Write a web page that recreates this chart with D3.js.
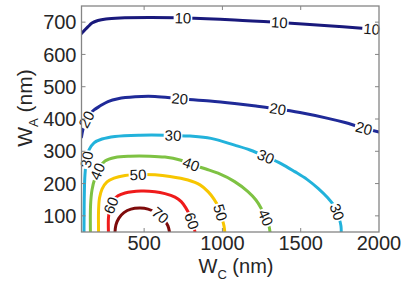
<!DOCTYPE html>
<html><head><meta charset="utf-8">
<script src="https://cdn.jsdelivr.net/npm/d3@7"></script>
<style>body{margin:0;background:#fff}svg{display:block}text{font-family:"Liberation Sans",Arial,sans-serif}</style>
</head><body><svg id="c" width="406" height="284"></svg>
<script>
// ---- data (W_C nm, W_A nm) ----
const levels = [10, 20, 30, 40, 50, 60, 70];
const xTicks = [500, 1000, 1500, 2000];
const yTicks = [100, 200, 300, 400, 500, 600, 700];

const c10 = [[100,665],[116,673],[142,686],[167,697],[205,705],[256,710],[346,713],[537,714],[748,713],[1078,707],[1365,699],[1674,689],[1952,679],[2000,677]];
const c20 = [[100,344],[110,369],[126,394],[148,412],[180,428],[218,440],[269,454],[333,463],[442,469],[569,470],[729,463],[920,456],[1078,448],[1214,440],[1355,431],[1495,420],[1674,402],[1783,389],[1898,372],[2000,360]];
const c30 = [[116,50],[118,165],[122,227],[132,273],[148,304],[180,326],[231,338],[314,346],[474,350],[633,350],[793,347],[927,340],[1078,319],[1176,304],[1280,283],[1374,262],[1462,237],[1540,213],[1611,185],[1674,155],[1719,127],[1745,93],[1757,69],[1759,50]];
const c40 = [[157,50],[158,134],[167,180],[186,217],[212,248],[250,270],[314,281],[410,285],[537,285],[633,282],[729,273],[812,258],[895,245],[972,232],[1078,206],[1163,175],[1214,149],[1248,123],[1278,93],[1297,69],[1304,50]];
const c50 = [[209,50],[209,118],[215,155],[231,183],[263,205],[308,217],[378,225],[474,228],[569,227],[665,222],[780,211],[857,196],[908,175],[946,152],[978,124],[997,93],[1010,69],[1015,50]];
const c60 = [[272,50],[272,93],[279,118],[301,146],[333,162],[378,171],[480,177],[569,175],[633,169],[697,158],[737,144],[767,124],[793,100],[812,75],[825,50]];
const c70 = [[314,50],[320,72],[339,93],[371,110],[416,121],[474,124],[525,121],[569,112],[608,100],[633,84],[652,69],[662,50]];
const contours = [c10, c20, c30, c40, c50, c60, c70];

const lab10 = [[748,713],[1365,699],[1952,679]];
const lab20 = [[126,400],[729,463],[1352,431],[1904,372]];
const lab30 = [[128,275],[684,349],[1278,285],[1735,113]];
const lab40 = [[207,237],[799,258],[1291,98]];
const lab50 = [[461,228],[981,110]];
const lab60 = [[282,134],[799,84]];
const lab70 = [[601,100]];
const labelSets = [lab10, lab20, lab30, lab40, lab50, lab60, lab70];

const colors = ["#19197c", "#1f2a98", "#22b2db", "#7ec243", "#f7c600", "#ef1b1b", "#7e0b0b"];

// ---- layout ----
const L = 81.5, R = 379, T = 6, B = 232;
const x = d3.scaleLinear().domain([100, 2000]).range([L, R]);
const y = d3.scaleLinear().domain([50, 750]).range([B, T]);
const svg = d3.select("#c");
const frameCol = "#858585";

svg.append("defs").append("clipPath").attr("id", "clip")
  .append("rect").attr("x", L).attr("y", T).attr("width", R - L).attr("height", B - T);

const line = d3.line().x(d => x(d[0])).y(d => y(d[1])).curve(d3.curveCatmullRom.alpha(0.5));

const gLines = svg.append("g").attr("clip-path", "url(#clip)");
const paths = contours.map((c, i) =>
  gLines.append("path").attr("d", line(c)).attr("fill", "none")
    .attr("stroke", colors[i]).attr("stroke-width", 3).attr("stroke-linecap", "round").node());

// ---- contour labels ----
const gLab = svg.append("g");
labelSets.forEach((set, i) => {
  const p = paths[i], len = p.getTotalLength();
  set.forEach(d => {
    const tx = x(d[0]), ty = y(d[1]);
    let best = 0, bd = Infinity;
    for (let l = 0; l <= len; l += 0.5) {
      const q = p.getPointAtLength(l);
      const dd = (q.x - tx) ** 2 + (q.y - ty) ** 2;
      if (dd < bd) { bd = dd; best = l; }
    }
    const c = p.getPointAtLength(best);
    const a = p.getPointAtLength(Math.max(0, best - 4));
    const b = p.getPointAtLength(Math.min(len, best + 4));
    let ang = Math.atan2(b.y - a.y, b.x - a.x) * 180 / Math.PI;
    if (ang > 90) ang -= 180;
    if (ang < -90) ang += 180;
    const g = gLab.append("g").attr("transform", `translate(${c.x},${c.y}) rotate(${ang})`);
    const bg = g.append("rect").attr("fill", "#fff");
    const t = g.append("text").attr("text-anchor", "middle").attr("dy", "0.36em")
      .attr("font-size", 15).attr("fill", "#151515").text(levels[i]);
    const w = t.node().getComputedTextLength();
    bg.attr("x", -w / 2 - 1).attr("y", -5.5).attr("width", w + 2).attr("height", 11);
  });
});

// ---- frame & ticks ----
svg.append("rect").attr("x", L).attr("y", T).attr("width", R - L).attr("height", B - T)
  .attr("fill", "none").attr("stroke", frameCol).attr("stroke-width", 1.3);
const tk = svg.append("g").attr("stroke", frameCol).attr("stroke-width", 1);
xTicks.filter(v => v < 2000).forEach(v => {
  tk.append("line").attr("x1", x(v)).attr("x2", x(v)).attr("y1", B).attr("y2", B - 4);
  tk.append("line").attr("x1", x(v)).attr("x2", x(v)).attr("y1", T).attr("y2", T + 4);
});
yTicks.forEach(v => {
  tk.append("line").attr("x1", L).attr("x2", L + 4).attr("y1", y(v)).attr("y2", y(v));
  tk.append("line").attr("x1", R).attr("x2", R - 4).attr("y1", y(v)).attr("y2", y(v));
});

const tc = "#262626";
svg.append("g").selectAll("text").data(xTicks).join("text")
  .attr("x", d => x(d)).attr("y", 250).attr("text-anchor", "middle")
  .attr("font-size", 20).attr("fill", tc).text(d => d);
svg.append("g").selectAll("text").data(yTicks).join("text")
  .attr("x", 76.5).attr("y", d => y(d)).attr("dy", "0.36em").attr("text-anchor", "end")
  .attr("font-size", 20).attr("fill", tc).text(d => d);

// axis titles
const xt = svg.append("text").attr("x", 236).attr("y", 273).attr("text-anchor", "middle")
  .attr("font-size", 20).attr("fill", tc);
xt.append("tspan").text("W");
xt.append("tspan").attr("font-size", 13).attr("dy", 6).text("C");
xt.append("tspan").attr("dy", -6).text(" (nm)");

const yt = svg.append("text").attr("transform", "translate(32,108) rotate(-90)")
  .attr("text-anchor", "middle").attr("font-size", 21).attr("fill", tc);
yt.append("tspan").text("W");
yt.append("tspan").attr("font-size", 13).attr("dy", 6).text("A");
yt.append("tspan").attr("dy", -6).text(" (nm)");
</script></body></html>
